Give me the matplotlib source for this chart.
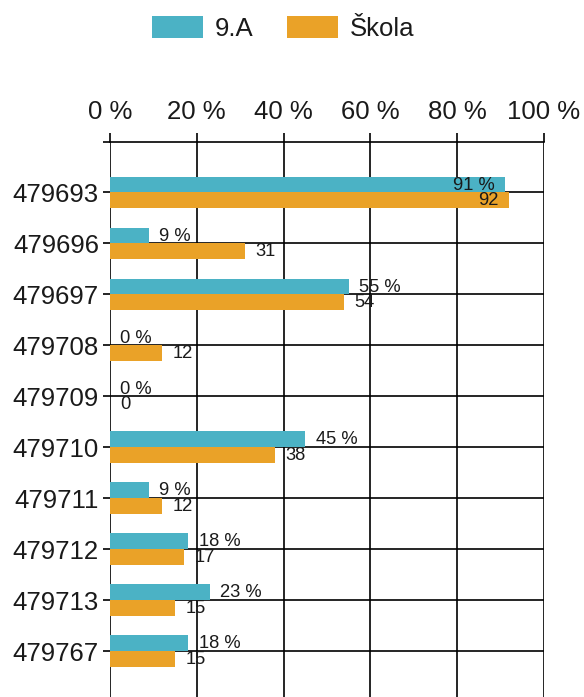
import numpy as np
import matplotlib
matplotlib.use("Agg")
import matplotlib.pyplot as plt
from matplotlib.patches import Patch

plt.rcParams['font.family'] = ['Liberation Sans', 'DejaVu Sans']

# Data
codes = ['479693', '479696', '479697', '479708', '479709',
         '479710', '479711', '479712', '479713', '479767']
class_9a = [91, 9, 55, 0, 0, 45, 9, 18, 23, 18]
school = [92, 31, 54, 12, 0, 38, 12, 17, 15, 15]
x_ticks = [0, 20, 40, 60, 80, 100]
series_names = ['9.A', 'Škola']

BLUE = '#4BB2C5'
ORANGE = '#EAA228'
TEXT = '#1a1a1a'
W, H = 584, 697

fig = plt.figure(figsize=(W / 100, H / 100), dpi=100)
ax = fig.add_axes([110 / W, 0, (544 - 110) / W, 1 - 142.3 / H])

y = np.arange(len(codes))
bh = 0.308
ax.barh(y - bh / 2, class_9a, height=bh, color=BLUE, zorder=2)
ax.barh(y + bh / 2, school, height=bh, color=ORANGE, zorder=2)

# value labels
for i in range(len(codes)):
    for val, yy, suffix in ((class_9a[i], y[i] - bh / 2, ' %'),
                            (school[i], y[i] + bh / 2, '')):
        inside = val > 85
        ax.annotate(f"{val}{suffix}", (val, yy),
                    xytext=(-7.5 if inside else 7.5, -0.5), textcoords='offset points',
                    ha='right' if inside else 'left', va='center',
                    fontsize=13.2, color=TEXT, zorder=5)

top = -(192.3 - 142.3) / 50.97
bottom = (697 - 192.3) / 50.97
ax.set_xlim(0, 100)
ax.set_ylim(bottom, top)

ax.xaxis.tick_top()
ax.set_xticks(x_ticks)
ax.set_xticklabels([f"{t} %" for t in x_ticks])
ax.tick_params(axis='x', which='major', length=6.5, width=1.2, pad=7,
               labelsize=18.5, labelcolor=TEXT, color='black')
ax.set_yticks(y)
ax.set_yticklabels(codes)
ax.set_yticks([top], minor=True)
ax.tick_params(axis='y', which='both', length=5, width=1.2, pad=3,
               labelsize=18.5, labelcolor=TEXT, color='black')

ax.grid(True, color='black', linewidth=1.2, zorder=0)
ax.set_axisbelow(True)
for s in ('bottom', 'right', 'left'):
    ax.spines[s].set_visible(False)
ax.spines['top'].set_linewidth(1.2)

handles = [Patch(facecolor=BLUE), Patch(facecolor=ORANGE)]
fig.legend(handles, series_names, loc='upper center', bbox_to_anchor=(283 / W, 1 - 6 / H),
           ncol=2, frameon=False, fontsize=18.5, handlelength=2.0, handleheight=0.9,
           handletextpad=0.45, columnspacing=1.28, labelcolor=TEXT, borderaxespad=0)

fig.savefig('out.png', dpi=100)
